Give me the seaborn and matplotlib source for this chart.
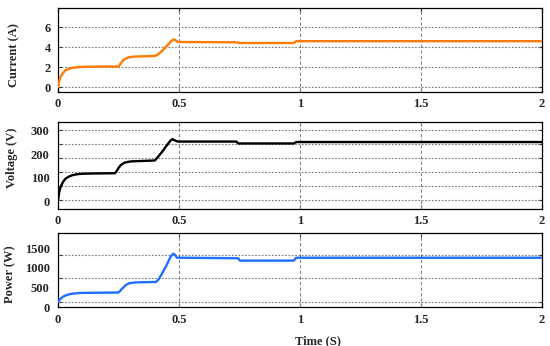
import numpy as np
import pandas as pd
import matplotlib
matplotlib.use("Agg")
import matplotlib.pyplot as plt
import seaborn as sns

# ---- data ----
cur_t = [0.000, 0.005, 0.010, 0.020, 0.030, 0.045, 0.060, 0.080, 0.100, 0.150, 0.250,
         0.255, 0.265, 0.275, 0.290, 0.310, 0.350, 0.400, 0.410, 0.430, 0.450, 0.465,
         0.478, 0.488, 0.495, 0.740, 0.748, 0.975, 0.985, 2.000]
cur_v = [0.0, 0.6, 1.0, 1.4, 1.65, 1.82, 1.92, 1.98, 2.02, 2.04, 2.05,
         2.2, 2.55, 2.78, 2.95, 3.03, 3.07, 3.1, 3.2, 3.6, 4.1, 4.5,
         4.77, 4.65, 4.5, 4.47, 4.40, 4.40, 4.58, 4.58]

volt_t = [0.000, 0.005, 0.010, 0.020, 0.030, 0.045, 0.060, 0.080, 0.100, 0.150, 0.235,
          0.240, 0.250, 0.260, 0.275, 0.300, 0.350, 0.400, 0.410, 0.430, 0.450, 0.465,
          0.473, 0.485, 0.495, 0.738, 0.745, 0.975, 0.985, 2.000]
volt_v = [5, 40, 60, 82, 96, 106, 112, 116, 118, 119, 120,
          125, 142, 155, 165, 170, 172, 174, 185, 210, 238, 258,
          264, 258, 254, 254, 246, 246, 252, 252]

pow_t = [0.000, 0.005, 0.010, 0.020, 0.030, 0.045, 0.060, 0.080, 0.100, 0.150, 0.249,
         0.255, 0.265, 0.280, 0.295, 0.320, 0.360, 0.405, 0.415, 0.430, 0.450, 0.465,
         0.477, 0.485, 0.492, 0.745, 0.752, 0.975, 0.985, 2.000]
pow_v = [130, 170, 210, 260, 295, 325, 342, 355, 362, 366, 371,
         400, 470, 560, 610, 630, 636, 640, 700, 850, 1080, 1280,
         1363, 1320, 1260, 1245, 1185, 1185, 1258, 1258]

x_ticks = [0, 0.5, 1, 1.5, 2]
x_labels = ["0", "0.5", "1", "1.5", "2"]
cur_ticks = [0, 2, 4, 6]
volt_ticks = [0, 100, 200, 300]
volt_grid = [7, 66, 125, 185, 245, 304]
pow_ticks = [0, 500, 1000, 1500]
pow_grid = [142, 737, 1330]

sns.set_style("white")
plt.rcParams['font.family'] = ['Liberation Serif', 'DejaVu Serif']
plt.rcParams['font.weight'] = 'bold'

fig = plt.figure(figsize=(5.5, 3.46), dpi=100)
W, H = 550, 346

def add_axes(top, bottom, left=58, right=541.7):
    return fig.add_axes([left / W, (H - bottom) / H, (right - left) / W, (bottom - top) / H])

ax1 = add_axes(8, 92)
ax2 = add_axes(121.7, 208.7)
ax3 = add_axes(232.7, 307.3)

panels = [
    (ax1, cur_t, cur_v, "#FF7A00", "Current (A)", cur_ticks, None, (-0.5, 7.9), -0.079, 0.44),
    (ax2, volt_t, volt_v, "#000000", "Voltage (V)", volt_ticks, volt_grid, (-30, 338), -0.083, 0.58),
    (ax3, pow_t, pow_v, "#1F6FFF", "Power (W)", pow_ticks, pow_grid, (-5, 1897), -0.087, 0.45),
]

for ax, t, v, col, lab, yt, yg, ylim, lx, ly in panels:
    df = pd.DataFrame({"t": t, "v": v})
    sns.lineplot(data=df, x="t", y="v", ax=ax, color=col, lw=1.7,
                 estimator=None, sort=False, zorder=3)
    ax.set_xlim(0, 2)
    ax.set_ylim(*ylim)
    ax.set_xticks(x_ticks)
    ax.set_xticklabels(x_labels)
    ax.set_yticks(yt)
    ax.set_xlabel("")
    ax.set_ylabel(lab, fontsize=9, fontweight='bold')
    ax.yaxis.set_label_coords(lx, ly)
    # vertical grid
    for xv in [0.5, 1.0, 1.5]:
        ax.axvline(xv, color="#888888", lw=0.8, ls=(0, (3, 2)), zorder=1)
    ax.tick_params(axis='x', which='major', direction='in', length=3, top=True,
                   bottom=True, labelsize=9, pad=4.5, width=0.8)
    if yg is None:
        for yv in yt:
            ax.axhline(yv, color="#777777", lw=0.8, ls=(0, (1.5, 1.5)), zorder=1)
        ax.tick_params(axis='y', which='major', direction='in', length=3, left=True,
                       right=True, labelsize=9, pad=5, width=0.8)
    else:
        for yv in yg:
            ax.axhline(yv, color="#777777", lw=0.8, ls=(0, (1.5, 1.5)), zorder=1)
        ax.set_yticks(yg, minor=True)
        ax.tick_params(axis='y', which='major', length=0, labelsize=9, pad=6)
        ax.tick_params(axis='y', which='minor', direction='in', length=3, left=True,
                       right=True, width=0.8)
    for lbl in ax.get_xticklabels() + ax.get_yticklabels():
        lbl.set_fontweight('bold')
    for s in ax.spines.values():
        s.set_color("black")
        s.set_linewidth(0.9)
        s.set_visible(True)

ax3.set_xlabel("Time (S)", fontsize=9, fontweight='bold')
ax3.xaxis.set_label_coords(0.5375, -0.37)

fig.savefig("out.png", dpi=100)
